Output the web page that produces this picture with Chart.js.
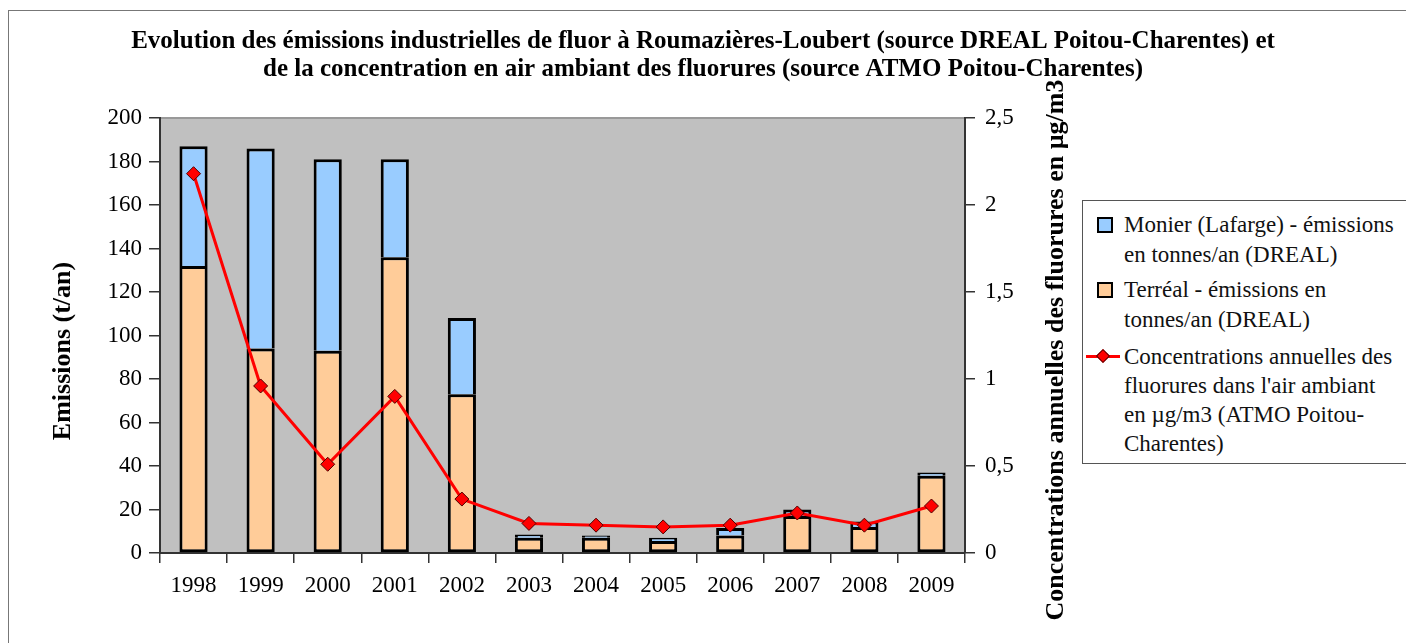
<!DOCTYPE html>
<html lang="fr">
<head>
<meta charset="utf-8">
<title>Emissions de fluor - Roumazières-Loubert</title>
<script src="https://cdn.jsdelivr.net/npm/chart.js@4.4.0/dist/chart.umd.min.js"></script>
<style>
  html, body { margin: 0; padding: 0; background: #fff; overflow: hidden; }
  #wrap { position: relative; width: 1406px; height: 643px; }
  #frame { position: absolute; left: 8px; top: 10px; width: 1500px; height: 700px;
           border-top: 1px solid #777; border-left: 1px solid #777; pointer-events: none; }
  #legend { position: absolute; left: 1082px; top: 200px; width: 400px; height: 264px;
            border: 1px solid #555; background: #fff; box-sizing: border-box;
            padding: 9px 0 0 41px; font-family: "Liberation Serif", serif; font-size: 23px;
            color: #111; }
  .item { position: relative; line-height: 30px; white-space: pre-line; margin-bottom: 5px; }
  .item:nth-child(2) { margin-bottom: 7px; }
  .item:last-child { line-height: 29px; }
  .sw { position: absolute; left: -27px; top: 7px; width: 12px; height: 12px; border: 2px solid #000; }
  .ln { position: absolute; left: -38px; top: 13px; width: 34px; height: 3px; background: #ff0000; }
  .dm { position: absolute; left: -26px; top: 9px; width: 8px; height: 8px; background: #ff0000;
        border: 1px solid #500; transform: rotate(45deg); }
</style>
</head>
<body>
<div id="wrap">
  <canvas id="chart"></canvas>
  <div id="frame"></div>
  <div id="legend"></div>
</div>
<script>
// values
const years = ['1998', '1999', '2000', '2001', '2002', '2003', '2004', '2005', '2006', '2007', '2008', '2009'];
const terrealEmissions = [132, 94, 93, 136, 73, 7, 7, 5.5, 8, 17, 12, 35.5];
const monierEmissions = [55, 92, 88, 45, 35, 1.5, 1, 1.5, 3.5, 3, 2.5, 1.5];
const fluorideConcentrations = [2.18, 0.96, 0.51, 0.9, 0.31, 0.17, 0.16, 0.15, 0.16, 0.23, 0.16, 0.27];

const chartTitle = [
  'Evolution des émissions industrielles de fluor à Roumazières-Loubert (source DREAL Poitou-Charentes) et',
  'de la concentration en air ambiant des fluorures (source ATMO Poitou-Charentes)'
];
const leftAxisTitle = 'Emissions (t/an)';
const rightAxisTitle = 'Concentrations annuelles des fluorures en µg/m3';

const serif = '"Liberation Serif", "Times New Roman", serif';
const axisColor = '#333';

// plot background + thin grey top border
const plotBackground = {
  id: 'plotBackground',
  beforeDraw(chart) {
    const { ctx, chartArea: a } = chart;
    ctx.save();
    ctx.fillStyle = '#c0c0c0';
    ctx.fillRect(a.left, a.top, a.right - a.left, a.bottom - a.top);
    ctx.strokeStyle = '#999';
    ctx.lineWidth = 2;
    ctx.beginPath();
    ctx.moveTo(a.left, a.top);
    ctx.lineTo(a.right, a.top);
    ctx.stroke();
    ctx.restore();
  }
};

// rotated axis titles, centred a bit lower than the plot like in the original
const axisTitles = {
  id: 'axisTitles',
  afterDraw(chart) {
    const { ctx } = chart;
    const drawRotated = (text, x, y) => {
      ctx.save();
      ctx.translate(x, y);
      ctx.rotate(-Math.PI / 2);
      ctx.font = 'bold 26px ' + serif;
      ctx.fillStyle = '#000';
      ctx.textAlign = 'center';
      ctx.textBaseline = 'middle';
      ctx.fillText(text, 0, 0);
      ctx.restore();
    };
    drawRotated(leftAxisTitle, chart.scales.y.left + 63, 351);
    drawRotated(rightAxisTitle, chart.scales.y2.left + 91, 350);
  }
};

const tickFont = { family: serif, size: 23 };

const ctx = document.getElementById('chart').getContext('2d');
const chart = new Chart(ctx, {
  type: 'bar',
  data: {
    labels: years,
    datasets: [
      {
        type: 'line',
        label: "Concentrations annuelles des\nfluorures dans l'air ambiant\nen µg/m3 (ATMO Poitou-\nCharentes)",
        data: fluorideConcentrations,
        yAxisID: 'y2',
        order: 0,
        borderColor: '#ff0000',
        borderWidth: 3,
        tension: 0,
        pointStyle: 'rectRot',
        pointRadius: 7,
        pointBackgroundColor: '#ff0000',
        pointBorderColor: '#500000',
        pointBorderWidth: 1
      },
      {
        label: 'Terréal - émissions en\ntonnes/an (DREAL)',
        data: terrealEmissions,
        yAxisID: 'y',
        order: 1,
        backgroundColor: '#ffcc99',
        borderColor: '#000',
        borderWidth: { top: 3, left: 3, right: 3, bottom: 3 },
        borderSkipped: false
      },
      {
        label: 'Monier (Lafarge) - émissions\nen tonnes/an (DREAL)',
        data: monierEmissions,
        yAxisID: 'y',
        order: 1,
        backgroundColor: '#99ccff',
        borderColor: '#000',
        borderWidth: { top: 3, left: 3, right: 3, bottom: 0 },
        borderSkipped: false
      }
    ]
  },
  options: {
    responsive: true,
    maintainAspectRatio: false,
    animation: false,
    layout: { padding: 0 },
    datasets: { bar: { categoryPercentage: 1, barPercentage: 0.42 } },
    plugins: {
      legend: { display: false },
      tooltip: { enabled: false },
      title: {
        display: true,
        text: chartTitle,
        color: '#000',
        font: { family: serif, size: 25, weight: 'bold', lineHeight: '28px' },
        padding: { top: 28, bottom: 34 }
      }
    },
    scales: {
      x: {
        stacked: true,
        afterFit: s => { s.height = 90; },
        grid: { drawOnChartArea: false, offset: true, tickLength: 10, color: axisColor, lineWidth: 1.5 },
        border: { color: axisColor, width: 2 },
        ticks: { font: tickFont, color: '#000', padding: 9, maxRotation: 0 }
      },
      y: {
        stacked: true,
        position: 'left',
        min: 0,
        max: 200,
        afterFit: s => { s.width = 160; },
        grid: { drawOnChartArea: false, tickLength: 11, color: axisColor, lineWidth: 1.5 },
        border: { color: axisColor, width: 2 },
        ticks: { stepSize: 20, font: tickFont, color: '#000', padding: 7 }
      },
      y2: {
        position: 'right',
        min: 0,
        max: 2.5,
        // wide box so the plot ends where the original does and the title stays centred on the page
        afterFit: s => { s.width = 441; },
        grid: { drawOnChartArea: false, tickLength: 10, color: axisColor, lineWidth: 1.5 },
        border: { color: axisColor, width: 2 },
        ticks: {
          stepSize: 0.5,
          font: tickFont,
          color: '#000',
          padding: 10,
          callback: v => String(v).replace('.', ',')
        }
      }
    }
  },
  plugins: [plotBackground, axisTitles]
});

// legend box in the original order: Monier, Terréal, concentrations
const legend = document.getElementById('legend');
[2, 1, 0].forEach(i => {
  const ds = chart.data.datasets[i];
  const item = document.createElement('div');
  item.className = 'item';
  if (ds.type === 'line') {
    const ln = document.createElement('span');
    ln.className = 'ln';
    const dm = document.createElement('span');
    dm.className = 'dm';
    item.appendChild(ln);
    item.appendChild(dm);
  } else {
    const sw = document.createElement('span');
    sw.className = 'sw';
    sw.style.background = ds.backgroundColor;
    item.appendChild(sw);
  }
  item.appendChild(document.createTextNode(ds.label));
  legend.appendChild(item);
});
</script>
</body>
</html>
